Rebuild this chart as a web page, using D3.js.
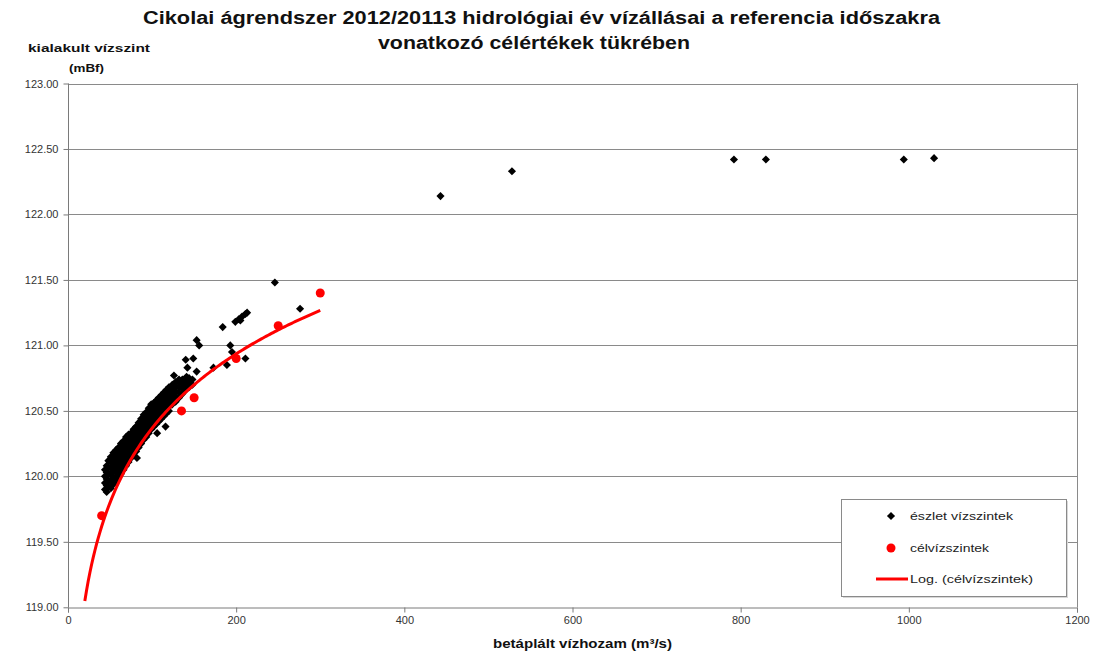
<!DOCTYPE html>
<html><head><meta charset="utf-8">
<script src="https://cdn.jsdelivr.net/npm/d3@7"></script>
<style>
body{margin:0;background:#fff;}
text{font-family:"Liberation Sans",Arial,sans-serif;}
</style>
</head><body>
<svg id="c" width="1095" height="654"></svg>
<script>
const titleLines = ["Cikolai ágrendszer 2012/20113 hidrológiai év vízállásai a referencia időszakra", "vonatkozó célértékek tükrében"];
const yTitleLines = ["kialakult vízszint", "(mBf)"];
const xTitle = "betáplált vízhozam (m³/s)";
const xTicks = [0, 200, 400, 600, 800, 1000, 1200];
const yTicks = [119, 119.5, 120, 120.5, 121, 121.5, 122, 122.5, 123];
const legendLabels = ["észlet vízszintek", "célvízszintek", "Log. (célvízszintek)"];

// észlet vízszintek (observed levels): [discharge m3/s, level mBf]
const observed = [
  [44,119.90],[44,119.95],[44,120.00],[44,120.05],
  [46,119.88],[46,119.93],[46,119.98],[46,120.03],[46,120.08],
  [48,119.92],[48,119.97],[48,120.02],[48,120.07],[48,120.12],
  [51,119.91],[51,119.96],[51,120.01],[51,120.06],[51,120.11],[51,120.15],
  [54,119.94],[54,119.99],[54,120.04],[54,120.09],[54,120.14],[54,120.18],
  [57,119.96],[57,119.99],[57,120.03],[57,120.07],[57,120.11],[57,120.16],[57,120.20],
  [60,119.99],[60,120.02],[60,120.06],[60,120.10],[60,120.14],[60,120.18],[60,120.22],
  [63,120.02],[63,120.05],[63,120.09],[63,120.13],[63,120.17],[63,120.21],[63,120.25],
  [66,120.05],[66,120.08],[66,120.12],[66,120.16],[66,120.20],[66,120.24],[66,120.27],
  [69,120.08],[69,120.11],[69,120.15],[69,120.19],[69,120.23],[69,120.27],[69,120.30],
  [72,120.11],[72,120.14],[72,120.18],[72,120.22],[72,120.26],[72,120.30],[72,120.32],
  [75,120.14],[75,120.17],[75,120.21],[75,120.25],[75,120.29],[75,120.33],
  [78,120.17],[78,120.20],[78,120.24],[78,120.28],[78,120.32],[78,120.36],
  [81,120.19],[81,120.22],[81,120.26],[81,120.30],[81,120.34],[81,120.38],
  [84,120.22],[84,120.25],[84,120.29],[84,120.33],[84,120.37],[84,120.41],
  [87,120.25],[87,120.28],[87,120.32],[87,120.36],[87,120.40],[87,120.44],
  [90,120.28],[90,120.31],[90,120.35],[90,120.39],[90,120.43],[90,120.47],
  [93,120.30],[93,120.33],[93,120.37],[93,120.41],[93,120.45],[93,120.49],
  [96,120.33],[96,120.36],[96,120.40],[96,120.44],[96,120.48],[96,120.52],
  [99,120.36],[99,120.39],[99,120.43],[99,120.47],[99,120.51],[99,120.55],
  [102,120.38],[102,120.41],[102,120.45],[102,120.49],[102,120.53],[102,120.56],
  [105,120.40],[105,120.43],[105,120.47],[105,120.51],[105,120.55],[105,120.58],
  [108,120.42],[108,120.45],[108,120.49],[108,120.53],[108,120.57],[108,120.60],
  [111,120.44],[111,120.47],[111,120.51],[111,120.55],[111,120.59],[111,120.62],
  [114,120.46],[114,120.49],[114,120.53],[114,120.57],[114,120.61],[114,120.64],
  [117,120.48],[117,120.51],[117,120.55],[117,120.59],[117,120.63],[117,120.66],
  [120,120.50],[120,120.53],[120,120.57],[120,120.61],[120,120.65],[120,120.68],
  [124,120.55],[124,120.59],[124,120.63],[124,120.67],[124,120.70],
  [128,120.57],[128,120.61],[128,120.65],[128,120.69],[128,120.72],
  [132,120.60],[132,120.64],[132,120.68],[132,120.72],[132,120.74],
  [136,120.63],[136,120.67],[136,120.71],[136,120.74],
  [140,120.66],[140,120.70],[140,120.73],
  [144,120.68],[144,120.72],[144,120.75],
  [148,120.70],[148,120.74],
  [82,120.14],[106,120.33],[116,120.38],
  [126,120.77],[141,120.76],[140,120.89],[149,120.90],[142,120.83],[153,120.80],
  [153,121.04],[156,121.00],
  [173,120.83],[189,120.85],[193,121.00],[195,120.95],[211,120.90],
  [184,121.14],
  [199,121.18],[203,121.20],[205,121.19],[207,121.22],[211,121.24],[213,121.25],
  [246,121.48],[276,121.28],
  [443,122.14],[528,122.33],[792,122.42],[830,122.42],[994,122.42],[1030,122.43]
];

// célvízszintek (target levels)
const target = [[40,119.70],[135,120.50],[150,120.60],[200,120.90],[250,121.15],[300,121.40]];
// x-extent of the logarithmic trendline
const trendRange = [20, 300];

const svg = d3.select("#c");
const M = {left: 68, right: 1077, top: 83.5, bottom: 607.3};
const x = d3.scaleLinear().domain([0, 1200]).range([M.left, M.right]);
const y = d3.scaleLinear().domain([119, 123]).range([M.bottom, M.top]);
const gridCol = "#8a8a8a";

svg.append("rect").attr("width", 1095).attr("height", 654).attr("fill", "#fff");

// gridlines
svg.append("g").selectAll("line").data(yTicks.filter(d => d > 119)).join("line")
  .attr("x1", M.left).attr("x2", M.right)
  .attr("y1", d => Math.round(y(d)) + 0.5).attr("y2", d => Math.round(y(d)) + 0.5)
  .attr("stroke", gridCol).attr("stroke-width", 1);
// right border
svg.append("line").attr("x1", M.right + 0.5).attr("x2", M.right + 0.5)
  .attr("y1", y(123)).attr("y2", y(119)).attr("stroke", gridCol);

// axes
const yAxis = d3.axisLeft(y).tickValues(yTicks).tickFormat(d3.format(".2f")).tickSize(5).tickPadding(5);
const gy = svg.append("g").attr("transform", `translate(${M.left + 0.5},0)`).call(yAxis);
const xAxis = d3.axisBottom(x).tickValues(xTicks).tickFormat(d3.format("d")).tickSize(5).tickPadding(4);
const gx = svg.append("g").attr("transform", `translate(0,${Math.round(y(119)) + 0.5})`).call(xAxis);
[gx, gy].forEach(g => {
  g.select(".domain").attr("stroke", "#7a7a7a");
  g.selectAll(".tick line").attr("stroke", "#7a7a7a");
  g.selectAll("text").attr("fill", "#333").style("font-size", "11px").style("font-family", "'Liberation Sans',Arial,sans-serif");
});
gy.select(".domain").attr("d", `M0,${Math.round(y(119))+0.5}V${y(123)}`);

// observed diamonds
const diamond = d3.symbol().type(d3.symbolDiamond2).size(42);
svg.append("g").selectAll("path").data(observed).join("path")
  .attr("d", diamond)
  .attr("transform", d => `translate(${x(d[0])},${y(d[1])})`)
  .attr("fill", "#000");

// target circles
svg.append("g").selectAll("circle").data(target).join("circle")
  .attr("cx", d => x(d[0])).attr("cy", d => y(d[1])).attr("r", 4.5)
  .attr("fill", "#ff0000");

// logarithmic trendline (least squares fit of target: y = a ln x + b)
const lx = target.map(d => Math.log(d[0]));
const mx = d3.mean(lx), my = d3.mean(target, d => d[1]);
const a = d3.sum(target, (d, i) => (lx[i] - mx) * (d[1] - my)) / d3.sum(lx, v => (v - mx) ** 2);
const b = my - a * mx;
const trendX = d3.range(trendRange[0], trendRange[1] + 0.01, 2);
svg.append("path").datum(trendX)
  .attr("d", d3.line().x(v => x(v)).y(v => y(a * Math.log(v) + b)))
  .attr("fill", "none").attr("stroke", "#ff0000").attr("stroke-width", 3);

// titles (stretched horizontally like the reference)
const titleW = [797, 312];
svg.append("g").selectAll("text").data(titleLines).join("text")
  .attr("x", (d, i) => i === 0 ? 143 : 378).attr("y", (d, i) => 24 + i * 25)
  .attr("textLength", (d, i) => titleW[i]).attr("lengthAdjust", "spacingAndGlyphs")
  .style("font-weight", "bold").style("font-size", "18px").attr("fill", "#111").text(d => d);
const yTitleX = [28, 69], yTitleW = [122, 35];
svg.append("g").selectAll("text").data(yTitleLines).join("text")
  .attr("x", (d, i) => yTitleX[i]).attr("y", (d, i) => 52 + i * 20)
  .attr("textLength", (d, i) => yTitleW[i]).attr("lengthAdjust", "spacingAndGlyphs")
  .style("font-weight", "bold").style("font-size", "11px").attr("fill", "#111").text(d => d);
svg.append("text").attr("x", 493).attr("y", 648)
  .attr("textLength", 179).attr("lengthAdjust", "spacingAndGlyphs")
  .style("font-weight", "bold").style("font-size", "12px").attr("fill", "#111").text(xTitle);

// legend
const L = {x: 841, y: 499, w: 225, h: 97};
svg.append("rect").attr("x", L.x + 2).attr("y", L.y + 2).attr("width", L.w).attr("height", L.h)
  .attr("fill", "#d8d8d8");
svg.append("rect").attr("x", L.x + 0.5).attr("y", L.y + 0.5).attr("width", L.w).attr("height", L.h)
  .attr("fill", "#fff").attr("stroke", "#8a8a8a");
const rows = [516, 548, 579];
const legW = [103, 79, 123];
svg.append("path").attr("d", diamond).attr("transform", `translate(891,${rows[0]})`).attr("fill", "#000");
svg.append("circle").attr("cx", 891).attr("cy", rows[1]).attr("r", 4.5).attr("fill", "#ff0000");
svg.append("line").attr("x1", 876).attr("x2", 908).attr("y1", rows[2]).attr("y2", rows[2])
  .attr("stroke", "#ff0000").attr("stroke-width", 3);
svg.append("g").selectAll("text").data(legendLabels).join("text")
  .attr("x", 910).attr("y", (d, i) => rows[i] + 4)
  .attr("textLength", (d, i) => legW[i]).attr("lengthAdjust", "spacingAndGlyphs")
  .style("font-size", "11px").attr("fill", "#222").text(d => d);
</script>
</body></html>
